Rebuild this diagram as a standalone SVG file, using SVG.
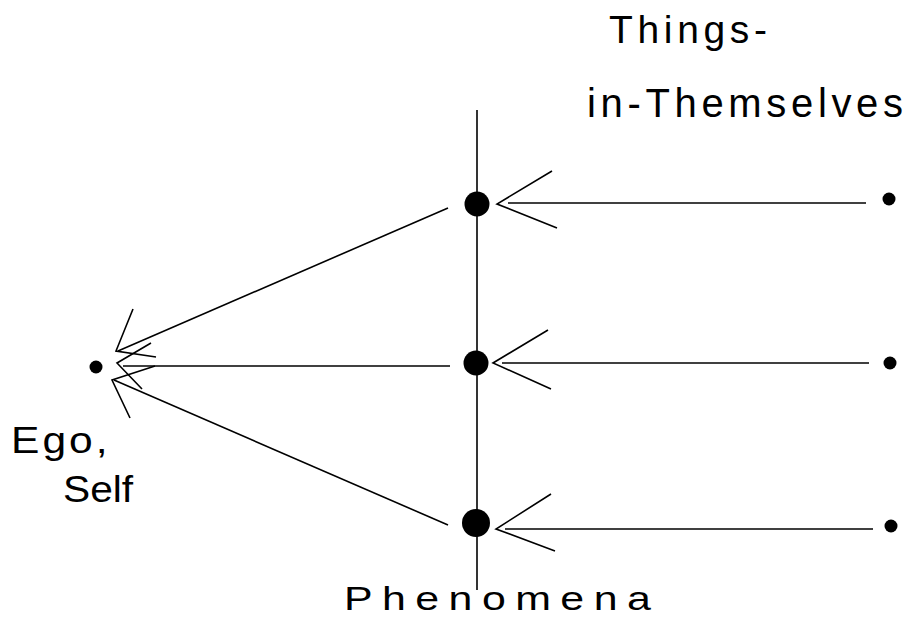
<svg xmlns="http://www.w3.org/2000/svg" width="905" height="617" viewBox="0 0 905 617">
<style>
.ln{stroke:#000;stroke-width:1.6;fill:none}
.lbl{font-family:"Liberation Sans",Arial,sans-serif;fill:#000}
</style>
<rect width="905" height="617" fill="#fff"/>
<g id="connectors">
<line class="ln" x1="477" y1="110" x2="477" y2="590"/>
<line class="ln" x1="508" y1="203" x2="866" y2="203"/>
<polyline class="ln" points="552,171 497,204 557,228"/>
<line class="ln" x1="502" y1="363" x2="869" y2="363"/>
<polyline class="ln" points="548,330 493,363 551,389"/>
<line class="ln" x1="505" y1="529" x2="873" y2="529"/>
<polyline class="ln" points="551,494 496,529 555,551"/>
<line class="ln" x1="448" y1="208" x2="118" y2="351"/>
<polyline class="ln" points="133,309 116,351 156,357"/>
<line class="ln" x1="450" y1="366" x2="123" y2="366"/>
<polyline class="ln" points="151,343 117,363 142,389"/>
<line class="ln" x1="448" y1="525" x2="114" y2="380"/>
<polyline class="ln" points="155,366 112,380 130,418"/>
</g>
<g id="phen1"><circle cx="477" cy="204" r="12.5"/></g>
<g id="phen2"><circle cx="476" cy="363" r="12.5"/></g>
<g id="phen3"><circle cx="476" cy="523" r="14"/></g>
<g id="thing1"><circle cx="889" cy="199" r="6.5"/></g>
<g id="thing2"><circle cx="890" cy="363" r="6.5"/></g>
<g id="thing3"><circle cx="891" cy="526" r="6.5"/></g>
<g id="ego"><circle cx="96" cy="367" r="6.5"/>
<text class="lbl" transform="translate(11,453) scale(1.15,1)" font-size="37" textLength="84" lengthAdjust="spacing">Ego,</text>
<text class="lbl" transform="translate(63,502) scale(1.1,1)" font-size="37">Self</text></g>
<g id="things-label">
<text class="lbl" x="609" y="43" font-size="39" textLength="158" lengthAdjust="spacing">Things-</text>
<text class="lbl" x="587" y="117" font-size="40" textLength="316" lengthAdjust="spacing">in-Themselves</text></g>
<g id="phenomena-label">
<text class="lbl" transform="translate(344,610) scale(1.3,1)" font-size="33" textLength="236" lengthAdjust="spacing">Phenomena</text></g>
</svg>
